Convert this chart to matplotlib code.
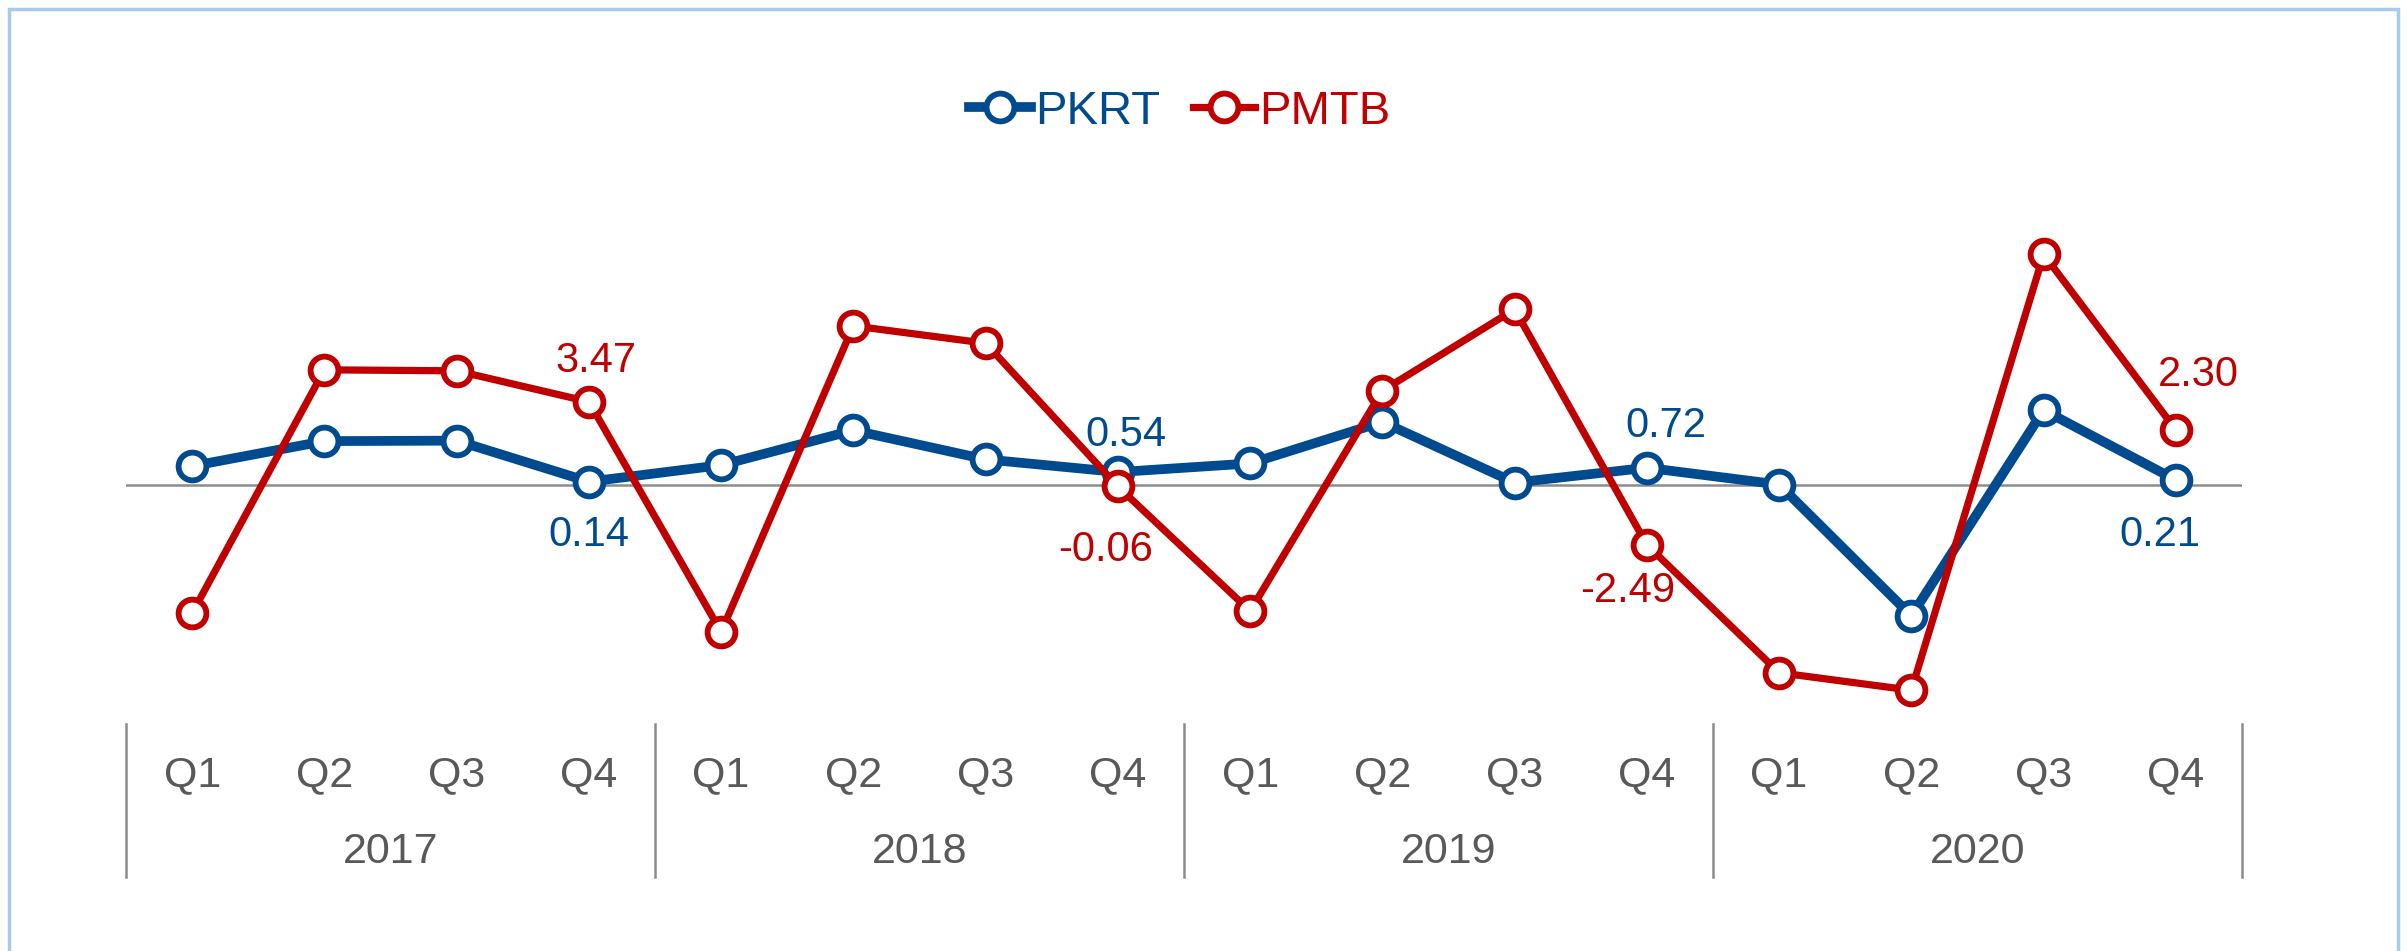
import matplotlib.pyplot as plt
import matplotlib.transforms as mtransforms
from matplotlib.patches import Rectangle

plt.rcParams["font.family"] = ["Liberation Sans", "DejaVu Sans"]

# Data
years = ["2017", "2018", "2019", "2020"]
quarters = ["Q1", "Q2", "Q3", "Q4"]
pkrt = [0.79, 1.83, 1.85, 0.14, 0.83, 2.28, 1.07, 0.54,
        0.90, 2.63, 0.10, 0.72, 0.02, -5.45, 3.12, 0.21]
pmtb = [-5.34, 4.80, 4.76, 3.47, -6.12, 6.63, 5.91, -0.06,
        -5.25, 3.93, 7.32, -2.49, -7.82, -8.55, 9.61, 2.30]

blue = "#004A8F"
red = "#C00000"
grey_text = "#595959"
W, H = 2407, 951

fig = plt.figure(figsize=(W / 100, H / 100), dpi=100)
ax = fig.add_axes([126 / W, 1 - 720 / H, (2242 - 126) / W, 570 / H])

x = list(range(len(pkrt)))
ax.axhline(0, color="#8C8C8C", lw=1.8, zorder=1)
ax.plot(x, pkrt, color=blue, lw=7, marker="o", ms=20, mew=4.2,
        mfc="white", mec=blue, label="PKRT", zorder=3)
ax.plot(x, pmtb, color=red, lw=5.2, marker="o", ms=20, mew=4.2,
        mfc="white", mec=red, label="PMTB", zorder=4)

ax.set_xlim(-0.5, len(x) - 0.5)
ax.set_ylim(-9.79, 13.96)
ax.axis("off")

# Data labels on Q4 points (offsets in pixels)
px = 0.72
blue_off = {3: (0, -53), 7: (8, 37), 11: (19, 42), 15: (-16, -55)}
red_off = {3: (7, 41), 7: (-12, -64), 11: (-19, -46), 15: (22, 55)}
for vals, offs, col in [(pkrt, blue_off, blue), (pmtb, red_off, red)]:
    for i, (dx, dy) in offs.items():
        ax.annotate(f"{vals[i]:.2f}", (i, vals[i]), xytext=(dx * px, dy * px),
                    textcoords="offset points", ha="center", va="center",
                    color=col, fontsize=30, zorder=5)

# Two-level category axis
trans = mtransforms.blended_transform_factory(ax.transData, fig.transFigure)
for g in range(len(years) + 1):
    xs = g * 4 - 0.5
    ax.plot([xs, xs], [1 - 724 / H, 1 - 877 / H], transform=trans,
            color="#8C8C8C", lw=1.8, clip_on=False)
for i in x:
    ax.text(i, 1 - 775 / H, quarters[i % 4], transform=trans, ha="center",
            va="center", fontsize=31, color=grey_text)
for g, yr in enumerate(years):
    ax.text(g * 4 + 1.5, 1 - 852 / H, yr, transform=trans, ha="center",
            va="center", fontsize=31, color=grey_text)

leg = fig.legend(loc="center", bbox_to_anchor=(1180 / W, 1 - 112 / H), ncol=2,
                 frameon=False, fontsize=34, handlelength=1.3,
                 handletextpad=0.1, columnspacing=0.7, borderpad=0)
for txt, col in zip(leg.get_texts(), [blue, red]):
    txt.set_color(col)

# Light blue frame around the chart
fig.patches.append(Rectangle((9 / W, -0.02), (2398 - 9) / W, 1 - 9 / H + 0.02,
                             transform=fig.transFigure, fill=False,
                             edgecolor="#A9CBEB", lw=2.5))

fig.savefig("out.png", dpi=100, facecolor="white")
